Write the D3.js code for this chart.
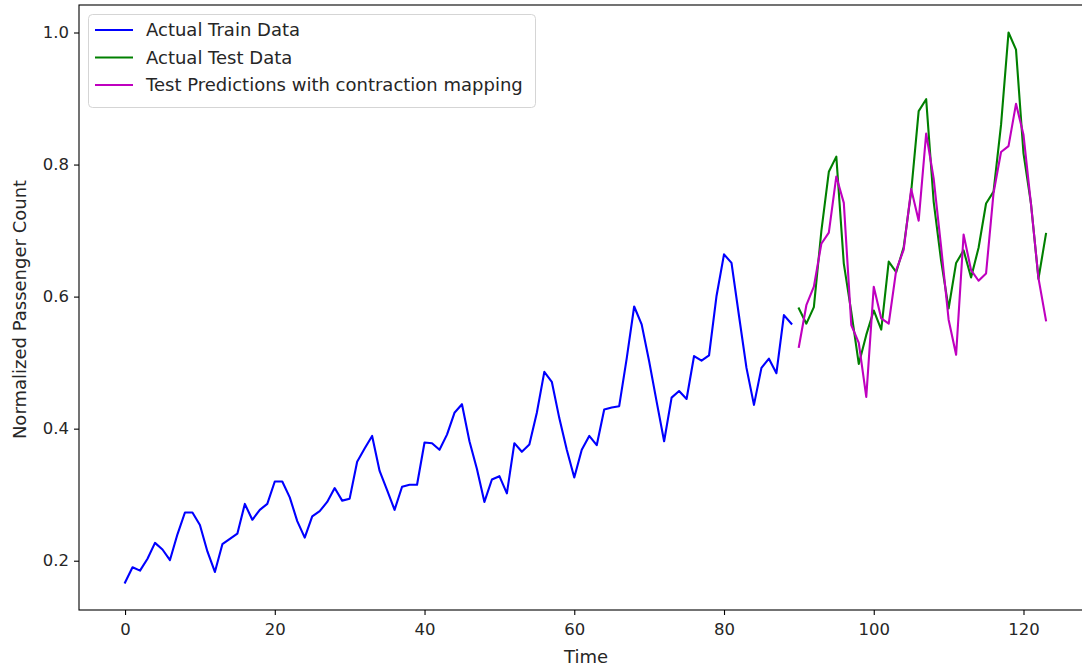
<!DOCTYPE html>
<html>
<head>
<meta charset="utf-8">
<script src="https://cdn.jsdelivr.net/npm/d3@7"></script>
<style>
  html, body { margin: 0; padding: 0; background: #fff; overflow: hidden; }
  svg { display: block; font-family: "DejaVu Sans", sans-serif; }
</style>
</head>
<body>
<svg id="chart" width="1082" height="668"></svg>
<script>
// ---- data ----
const trainStart = 0;
const trainValues = [0.167,0.190,0.185,0.203,0.227,0.217,0.201,0.240,0.273,0.273,
  0.254,0.214,0.183,0.225,0.233,0.241,0.286,0.262,0.277,0.286,
  0.320,0.320,0.296,0.260,0.235,0.267,0.275,0.289,0.310,0.291,
  0.294,0.350,0.370,0.389,0.336,0.307,0.277,0.312,0.315,0.315,
  0.379,0.378,0.368,0.391,0.424,0.437,0.381,0.339,0.289,0.323,
  0.328,0.302,0.378,0.365,0.376,0.424,0.486,0.471,0.416,0.368,
  0.326,0.368,0.389,0.375,0.429,0.432,0.434,0.506,0.585,0.558,
  0.502,0.441,0.381,0.447,0.457,0.445,0.510,0.503,0.511,0.601,
  0.664,0.651,0.571,0.492,0.436,0.492,0.506,0.484,0.572,0.559];
const testStart = 90;
const testValues = [0.582,0.559,0.584,0.699,0.789,0.812,0.650,0.577,0.498,0.542,
  0.579,0.550,0.653,0.637,0.675,0.759,0.881,0.899,0.744,0.654,
  0.582,0.651,0.670,0.629,0.674,0.741,0.759,0.860,1.000,0.974,
  0.817,0.741,0.627,0.695];
const predValues = [0.524,0.587,0.615,0.680,0.697,0.782,0.742,0.557,0.530,0.448,
  0.615,0.567,0.559,0.640,0.671,0.763,0.715,0.847,0.779,0.675,
  0.565,0.512,0.694,0.640,0.624,0.635,0.757,0.819,0.828,0.892,
  0.845,0.740,0.628,0.564];
const xTicks = [0, 20, 40, 60, 80, 100, 120];
const yTicks = [0.2, 0.4, 0.6, 0.8, 1.0];
const seriesNames = ["Actual Train Data", "Actual Test Data", "Test Predictions with contraction mapping"];
const seriesColors = ["#0000ff", "#008000", "#bf00bf"];
const xLabel = "Time";
const yLabel = "Normalized Passenger Count";

// ---- layout ----
const svg = d3.select("#chart");
const pL = 79, pT = 5, pB = 610, pR = 1092;
const tickFont = "16.5px", labelFont = "18px";

const train = trainValues.map((v, i) => [trainStart + i, v]);
const test = testValues.map((v, i) => [testStart + i, v]);
const pred = predValues.map((v, i) => [testStart + i, v]);
const all = train.concat(test, pred);

const xmin = d3.min(all, d => d[0]), xmax = d3.max(all, d => d[0]);
const ymin = d3.min(all, d => d[1]), ymax = d3.max(all, d => d[1]);
const xm = (xmax - xmin) * 0.05, ym = (ymax - ymin) * 0.05;

const x = d3.scaleLinear().domain([xmin - xm, xmax + xm]).range([pL, pR]);
const y = d3.scaleLinear().domain([ymin - ym, ymax + ym]).range([pB, pT]);

// clip
svg.append("defs").append("clipPath").attr("id", "clip")
  .append("rect").attr("x", pL).attr("y", pT).attr("width", pR - pL).attr("height", pB - pT);

const line = d3.line().x(d => x(d[0])).y(d => y(d[1]));
const plot = svg.append("g").attr("clip-path", "url(#clip)");
[train, test, pred].forEach((s, i) => {
  plot.append("path").datum(s)
    .attr("d", line)
    .attr("fill", "none")
    .attr("stroke", seriesColors[i])
    .attr("stroke-width", 2.1)
    .attr("stroke-linejoin", "round")
    .attr("stroke-linecap", "square");
});

// axes
const xAxis = d3.axisBottom(x).tickValues(xTicks).tickFormat(d3.format("d")).tickSize(5).tickPadding(8);
const yAxis = d3.axisLeft(y).tickValues(yTicks).tickFormat(d3.format(".1f")).tickSize(5).tickPadding(5);

const gx = svg.append("g").attr("transform", `translate(0,${pB})`).call(xAxis);
const gy = svg.append("g").attr("transform", `translate(${pL},0)`).call(yAxis);
[gx, gy].forEach(g => {
  g.select(".domain").remove();
  g.selectAll(".tick line").attr("stroke", "#000").attr("stroke-width", 1.1);
  g.selectAll(".tick text").attr("fill", "#262626").style("font-size", tickFont)
    .style("font-family", "'DejaVu Sans', sans-serif");
});

// frame (left, top, bottom; right side lies outside the picture)
svg.append("rect").attr("x", pL).attr("y", pT)
  .attr("width", pR - pL).attr("height", pB - pT)
  .attr("fill", "none").attr("stroke", "#000").attr("stroke-width", 1.1);

// axis labels
svg.append("text").attr("x", 586).attr("y", 663)
  .attr("text-anchor", "middle").style("font-size", labelFont).attr("fill", "#262626").text(xLabel);
svg.append("text").attr("transform", `translate(26,${(pT + pB) / 2 + 2}) rotate(-90)`)
  .attr("text-anchor", "middle").style("font-size", labelFont).attr("fill", "#262626").text(yLabel);

// legend
const lg = svg.append("g");
lg.append("rect").attr("x", 88.5).attr("y", 14.5).attr("width", 447).attr("height", 93)
  .attr("rx", 4).attr("fill", "#fff").attr("fill-opacity", 0.8)
  .attr("stroke", "#d5d5d5").attr("stroke-width", 1);
seriesNames.forEach((name, i) => {
  const cy = 30 + i * 27.5;
  lg.append("line").attr("x1", 95).attr("x2", 133).attr("y1", cy).attr("y2", cy)
    .attr("stroke", seriesColors[i]).attr("stroke-width", 2.1);
  lg.append("text").attr("x", 146).attr("y", cy).attr("dy", "0.36em")
    .style("font-size", labelFont).attr("fill", "#262626").text(name);
});
</script>
</body>
</html>
